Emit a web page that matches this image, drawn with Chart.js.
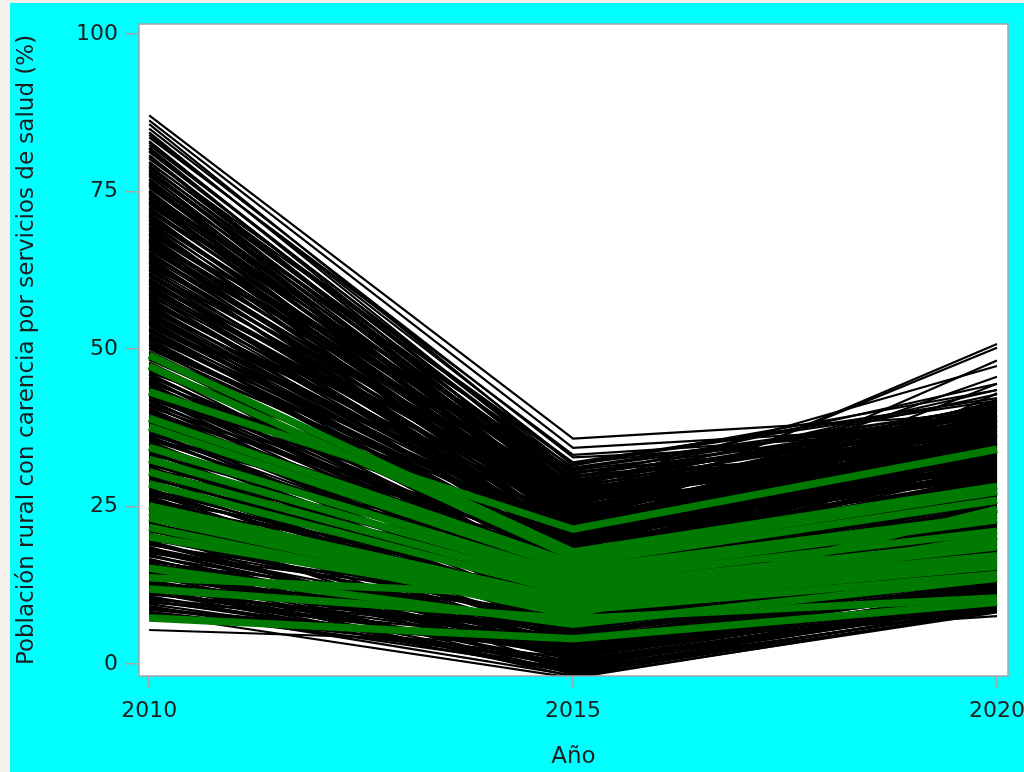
<!DOCTYPE html>
<html>
<head>
<meta charset="utf-8">
<script src="https://cdn.jsdelivr.net/npm/chart.js@4"></script>
<style>
  html, body { margin: 0; padding: 0; background: #f4f1ec; }
  #marco { position: absolute; left: 10px; top: 3px; width: 1014px; height: 769px; background: #00ffff; }
</style>
</head>
<body>
<div id="marco"><canvas id="grafica" width="1014" height="769"></canvas></div>
<script>
// años del eje x y marcas de los ejes
const anios = [2010, 2015, 2020];
const marcasX = [2010, 2015, 2020];
const marcasY = [0, 25, 50, 75, 100];

// cada fila: valores en 2010, 2015, 2020 (%)
const lineasNegras = [
  [87.1, 35.8, 39.8], [86.3, 34.3, 38.2], [85.7, 31.5, 43.5], [85.0, 32.8, 36.0],
  [84.4, 30.2, 41.0], [84.0, 31.8, 39.2], [83.6, 33.2, 37.5], [83.0, 29.0, 35.5],
  [82.8, 30.4, 36.4], [82.4, 31.0, 40.2], [82.0, 27.8, 41.4], [81.8, 28.2, 38.8],
  [81.5, 29.6, 37.8], [81.3, 30.0, 34.5], [80.8, 27.5, 36.8], [80.5, 26.8, 33.2],
  [80.2, 32.0, 42.2], [79.7, 28.8, 39.5], [79.5, 31.8, 41.8], [79.2, 26.5, 33.8],
  [79.0, 29.2, 38.4], [78.8, 30.5, 37.0], [78.5, 27.6, 36.6], [78.3, 25.8, 35.2],
  [78.0, 28.4, 35.8], [77.9, 29.5, 44.5], [77.6, 25.2, 31.8], [77.4, 27.0, 38.0],
  [77.0, 24.5, 32.5], [76.8, 29.0, 40.2], [76.5, 31.2, 40.8], [76.3, 27.4, 40.6],
  [76.1, 26.0, 36.2], [75.9, 24.2, 35.0], [75.6, 28.0, 34.0], [75.2, 23.5, 31.0],
  [75.0, 27.2, 37.0], [74.8, 29.2, 39.0], [74.6, 26.4, 36.4], [74.3, 25.0, 37.6],
  [74.0, 22.5, 32.8], [73.9, 27.8, 35.8], [73.6, 25.4, 38.6], [73.4, 22.8, 33.2],
  [73.2, 28.6, 39.8], [73.0, 26.8, 41.5], [72.8, 27.8, 37.2], [72.5, 24.0, 30.5],
  [72.3, 25.8, 33.0], [72.1, 30.8, 38.5], [71.9, 26.6, 39.4], [71.6, 21.5, 32.0],
  [71.4, 23.8, 38.2], [71.2, 25.5, 36.5], [71.0, 24.4, 36.2], [70.7, 28.5, 42.8],
  [70.5, 27.0, 35.5], [70.3, 23.0, 34.8], [70.0, 25.2, 40.4], [69.9, 26.2, 37.2],
  [69.7, 21.8, 31.0], [69.4, 20.8, 29.5], [69.2, 23.6, 37.8], [69.0, 24.8, 35.0],
  [68.8, 25.6, 39.0], [68.5, 29.8, 40.0], [68.3, 26.8, 36.4], [68.1, 22.2, 31.5],
  [67.9, 23.0, 34.0], [67.6, 27.2, 38.8], [67.4, 24.2, 41.8], [67.2, 19.8, 30.0],
  [67.0, 28.2, 43.5], [66.8, 25.2, 33.5], [66.6, 21.8, 35.6], [66.3, 23.8, 36.0],
  [66.0, 22.6, 50.2], [65.9, 28.0, 47.3], [65.7, 25.4, 38.6], [65.4, 21.0, 32.8],
  [65.2, 24.6, 36.0], [65.0, 26.5, 39.2], [64.8, 23.2, 39.6], [64.6, 18.8, 28.5],
  [64.3, 20.5, 30.2], [64.1, 24.2, 34.2], [63.9, 21.6, 36.6], [63.7, 22.5, 37.0],
  [63.5, 26.2, 38.2], [63.2, 27.5, 35.5], [63.0, 24.0, 40.8], [62.8, 20.2, 30.8],
  [62.6, 21.2, 33.6], [62.4, 25.8, 41.0], [62.1, 22.8, 37.8], [61.9, 17.8, 27.5],
  [61.7, 24.8, 35.2], [61.5, 23.2, 33.0], [61.2, 20.2, 35.6], [61.0, 21.8, 36.8],
  [60.8, 19.8, 31.6], [60.6, 26.0, 38.0], [60.4, 23.6, 41.2], [60.2, 19.2, 29.0],
  [59.9, 23.0, 39.0], [59.7, 24.5, 35.8], [59.5, 21.8, 38.4], [59.3, 22.0, 45.6],
  [59.0, 20.8, 32.6], [58.8, 16.8, 28.0], [58.6, 19.4, 36.0], [58.4, 25.0, 33.8],
  [58.2, 18.0, 29.6], [58.0, 20.5, 31.2], [57.8, 22.0, 39.6], [57.5, 23.5, 37.8],
  [57.3, 22.4, 36.8], [57.1, 18.2, 26.5], [56.9, 20.4, 37.4], [56.6, 21.2, 34.5],
  [56.4, 19.0, 33.2], [56.2, 24.0, 40.5], [56.0, 18.6, 35.0], [55.8, 15.8, 27.0],
  [55.5, 21.6, 30.4], [55.3, 22.8, 32.2], [55.1, 21.0, 40.0], [54.9, 19.5, 30.2],
  [54.6, 17.6, 35.4], [54.4, 17.0, 36.2], [54.2, 19.8, 38.8], [54.0, 23.0, 33.5],
  [53.8, 20.6, 31.8], [53.6, 20.0, 29.8], [53.3, 18.2, 36.4], [53.1, 14.8, 25.5],
  [52.9, 16.6, 28.6], [52.7, 21.5, 38.5], [52.4, 20.2, 39.4], [52.2, 18.5, 31.0],
  [52.0, 19.6, 34.8], [51.8, 22.2, 50.8], [51.6, 17.2, 34.6], [51.4, 16.2, 28.2],
  [51.1, 17.8, 27.4], [50.9, 20.8, 34.0], [50.7, 18.8, 37.8], [50.5, 13.8, 24.8],
  [50.2, 21.4, 37.4], [50.0, 19.0, 30.5], [49.6, 17.5, 32.5], [49.4, 15.8, 29.4],
  [49.2, 21.0, 35.2], [48.7, 15.2, 27.2], [48.5, 19.2, 32.4], [48.3, 18.8, 48.2],
  [47.9, 15.6, 27.8], [47.8, 12.8, 23.8], [47.6, 14.6, 26.4], [47.4, 20.2, 33.0],
  [47.0, 16.5, 29.2], [46.9, 13.0, 24.4], [46.7, 17.6, 30.6], [46.5, 19.5, 36.5],
  [46.3, 22.4, 38.6], [46.1, 14.2, 26.0], [46.0, 15.0, 28.0], [45.9, 13.4, 25.2],
  [45.6, 17.8, 31.8], [45.4, 12.4, 23.4], [45.2, 11.8, 22.5], [45.0, 16.4, 33.6],
  [44.8, 18.2, 44.5], [44.6, 21.2, 35.8], [44.5, 14.0, 26.6], [44.3, 15.5, 28.8],
  [44.0, 14.8, 28.4], [43.9, 13.2, 25.0], [43.7, 11.6, 22.2], [43.4, 19.8, 34.2],
  [43.0, 16.0, 30.0], [42.9, 13.8, 25.6], [42.8, 12.6, 24.6], [42.6, 10.8, 21.5],
  [42.4, 20.4, 37.6], [42.1, 17.2, 32.0], [42.0, 10.4, 20.8], [41.7, 14.5, 27.8],
  [41.4, 16.2, 31.2], [41.2, 12.2, 24.2], [41.1, 12.8, 24.0], [40.8, 18.0, 37.0],
  [40.6, 11.0, 21.8], [40.4, 15.0, 29.5], [40.2, 13.0, 26.2], [40.0, 9.8, 20.5],
  [39.9, 12.0, 23.2], [39.8, 19.6, 34.4], [39.5, 16.8, 33.8], [39.3, 9.4, 19.8],
  [39.1, 13.5, 26.8], [38.9, 11.6, 22.8], [38.6, 11.2, 23.0], [38.4, 10.8, 22.2],
  [38.2, 15.8, 30.8], [38.0, 18.6, 36.2], [37.8, 8.8, 19.5], [37.6, 14.4, 29.8],
  [37.3, 14.0, 42.0], [37.1, 9.0, 19.2], [36.9, 12.5, 25.8], [36.6, 11.8, 23.8],
  [36.4, 17.0, 35.0], [36.2, 10.6, 21.6], [36.0, 10.2, 22.0], [35.8, 18.2, 33.2],
  [35.6, 13.8, 28.2], [35.4, 8.4, 18.2], [35.1, 7.8, 18.5], [35.0, 12.8, 27.4],
  [34.9, 10.4, 21.4], [34.7, 15.2, 31.5], [34.2, 11.5, 24.5], [34.0, 7.4, 17.8],
  [33.8, 9.2, 20.8], [33.6, 9.6, 20.2], [33.4, 14.8, 29.0], [33.2, 17.4, 35.0],
  [33.0, 9.8, 21.2], [32.9, 12.0, 43.0], [32.7, 8.0, 18.4], [32.5, 6.8, 17.5],
  [32.2, 11.4, 25.6], [32.0, 10.5, 23.5], [31.8, 10.2, 22.6], [31.6, 13.0, 27.0],
  [31.4, 6.4, 16.8], [31.2, 8.2, 19.0], [31.0, 16.6, 32.2], [30.9, 8.6, 18.8],
  [30.7, 15.0, 33.0], [30.3, 11.0, 22.8], [30.1, 9.2, 20.6], [29.9, 5.8, 16.5],
  [29.6, 10.8, 23.8], [29.4, 12.8, 26.2], [29.2, 6.8, 16.4], [29.0, 9.5, 21.2],
  [28.8, 8.6, 19.4], [28.5, 7.2, 18.0], [28.3, 7.8, 19.6], [28.1, 13.5, 30.0],
  [27.9, 5.6, 15.8], [27.7, 10.0, 39.5], [27.5, 15.6, 31.4], [27.4, 8.2, 19.8],
  [27.2, 4.8, 15.5], [27.0, 9.8, 22.4], [26.8, 11.8, 24.0], [26.6, 6.0, 15.6],
  [26.3, 8.5, 19.8], [26.1, 7.4, 18.2], [26.0, 14.6, 30.2], [25.9, 6.2, 17.0],
  [25.7, 6.8, 17.6], [25.5, 12.2, 28.0], [25.3, 4.4, 14.2], [25.0, 9.0, 22.0],
  [24.9, 7.0, 17.4], [24.8, 1.0, 11.0], [24.6, 3.8, 14.5], [24.4, 8.8, 21.0],
  [24.2, 5.4, 15.8], [24.1, 10.8, 25.2], [23.9, 3.6, 13.8], [23.7, 7.5, 18.8],
  [23.5, 13.6, 29.2], [23.3, 5.2, 16.0], [23.0, 5.8, 16.6], [22.8, 11.5, 27.5],
  [22.6, 0.4, 10.0], [22.4, 8.0, 20.0], [22.2, 6.2, 16.2], [21.9, 2.8, 13.5],
  [21.7, 7.6, 19.4], [21.5, 9.8, 23.2], [21.3, 3.2, 13.0], [21.1, 6.5, 17.2],
  [20.8, -0.8, 9.4], [20.6, 4.2, 14.8], [20.4, 4.8, 15.4], [20.2, 10.5, 36.0],
  [20.0, 5.2, 15.6], [19.8, 7.0, 19.2], [19.6, 12.6, 27.2], [19.5, 2.4, 12.0],
  [19.3, 1.8, 12.5], [19.1, 3.0, 13.2], [19.0, 6.6, 18.0], [18.9, 8.8, 21.5],
  [18.6, -1.2, 8.8], [18.4, 5.5, 16.2], [18.2, 4.6, 14.6], [18.0, 3.2, 13.8],
  [17.8, 3.8, 14.4], [17.6, 9.2, 24.8], [17.4, 0.6, 10.6], [17.2, 2.2, 12.2],
  [17.1, 6.0, 18.2], [16.7, 0.8, 11.5], [16.5, 3.8, 13.8], [16.4, 5.4, 16.4],
  [16.2, 7.8, 20.2], [16.0, -1.6, 8.4], [15.9, 6.4, 17.0], [15.8, 4.5, 15.2],
  [15.6, 1.4, 11.2], [15.4, 2.2, 12.8], [15.2, 1.0, 11.4], [15.0, 2.8, 13.4],
  [14.9, 8.2, 22.5], [14.7, -0.4, 9.6], [14.5, 5.0, 17.8], [14.4, 3.4, 13.0],
  [14.2, 2.6, 12.4], [14.0, -0.2, 10.8], [13.8, 4.2, 15.0], [13.6, 6.8, 19.0],
  [13.4, -2.0, 8.2], [13.2, 3.5, 14.2], [13.0, 5.6, 15.8], [12.9, 0.4, 10.0],
  [12.7, 1.2, 11.8], [12.5, -0.6, 10.4], [12.3, 7.2, 21.0], [12.2, 2.8, 12.0],
  [12.0, -1.2, 8.8], [11.8, 4.0, 16.8], [11.6, 1.6, 11.6], [11.4, -1.0, 9.8],
  [11.2, 2.0, 11.4], [11.0, 5.8, 18.5], [10.8, -1.4, 9.0], [10.6, -0.2, 9.2],
  [10.5, 2.5, 13.2], [10.3, 3.6, 12.6], [10.1, 0.2, 10.2], [9.9, 1.8, 10.8],
  [9.7, 6.2, 17.5], [9.5, 0.0, 9.8], [9.2, -1.8, 9.2], [9.0, -0.8, 8.6],
  [8.8, 3.0, 12.2], [8.6, 2.4, 11.2], [8.3, 1.0, 10.5], [8.1, 0.4, 9.4],
  [7.9, -2.2, 8.5], [7.5, 4.5, 14.0], [5.4, 3.2, 7.6]
];

const lineasVerdes = [
  [43.2, 21.4, 34.1], [49.0, 17.8, 28.2], [47.3, 17.0, 27.4], [39.0, 16.0, 26.0],
  [37.6, 15.0, 23.6], [34.4, 14.0, 22.9], [32.5, 13.2, 21.1], [30.5, 12.2, 19.5],
  [28.6, 11.2, 18.6], [25.1, 10.2, 16.5], [24.1, 9.5, 15.5], [23.2, 8.5, 14.2],
  [21.7, 7.8, 24.6], [20.2, 9.0, 20.3], [15.2, 6.3, 13.6], [13.7, 10.8, 17.2],
  [11.9, 7.2, 10.5], [7.3, 4.0, 9.8]
];

function crearSerie(fila, color, grosor, orden) {
  return {
    data: anios.map((a, i) => ({ x: a, y: fila[i] })),
    borderColor: color,
    borderWidth: grosor,
    pointRadius: 0,
    tension: 0,
    fill: false,
    clip: 0,
    order: orden
  };
}

const series = [
  ...lineasVerdes.map(f => crearSerie(f, '#007a00', 7.5, 0)),
  ...lineasNegras.map(f => crearSerie(f, '#000000', 2.2, 1))
];

const fondoPanel = {
  id: 'fondoPanel',
  beforeDatasetsDraw(chart) {
    const { ctx, chartArea: a } = chart;
    ctx.save();
    ctx.fillStyle = '#ffffff';
    ctx.fillRect(a.left, a.top, a.right - a.left, a.bottom - a.top);
    ctx.restore();
  },
  afterDatasetsDraw(chart) {
    const { ctx, chartArea: a } = chart;
    ctx.save();
    ctx.strokeStyle = '#a4a4a4';
    ctx.lineWidth = 1.5;
    ctx.strokeRect(a.left, a.top, a.right - a.left, a.bottom - a.top);
    ctx.restore();
  }
};

const fuenteTicks = { family: 'DejaVu Sans', size: 22 };
const fuenteTitulo = { family: 'DejaVu Sans', size: 23 };

new Chart(document.getElementById('grafica'), {
  type: 'line',
  data: { datasets: series },
  plugins: [fondoPanel],
  options: {
    responsive: false,
    animation: false,
    events: [],
    layout: { padding: { top: 21, right: 16, left: 0, bottom: 0 } },
    plugins: { legend: { display: false }, tooltip: { enabled: false } },
    scales: {
      x: {
        type: 'linear',
        min: 2009.88,
        max: 2020.13,
        afterBuildTicks: s => { s.ticks = marcasX.map(v => ({ value: v })); },
        afterFit: s => { s.height = 96; s.paddingLeft = 0; s.paddingRight = 0; },
        ticks: { color: '#1e1e1e', font: fuenteTicks, padding: 10, maxRotation: 0, callback: v => String(v) },
        grid: { drawOnChartArea: false, drawTicks: true, tickLength: 12, color: '#a4a4a4', lineWidth: 1.5 },
        border: { display: false },
        title: { display: true, text: 'Año', color: '#1e1e1e', font: fuenteTitulo, padding: { top: 0, bottom: 1 } }
      },
      y: {
        type: 'linear',
        min: -1.9,
        max: 101.6,
        afterBuildTicks: s => { s.ticks = marcasY.map(v => ({ value: v })); },
        afterFit: s => { s.width = 129; },
        ticks: { color: '#1e1e1e', font: fuenteTicks, padding: 7 },
        grid: { drawOnChartArea: false, drawTicks: true, tickLength: 14, color: '#a4a4a4', lineWidth: 1.5 },
        border: { display: false },
        title: { display: true, text: 'Población rural con carencia por servicios de salud (%)', color: '#1e1e1e', font: fuenteTitulo, padding: { top: 3, bottom: 0 } }
      }
    }
  }
});
</script>
</body>
</html>
